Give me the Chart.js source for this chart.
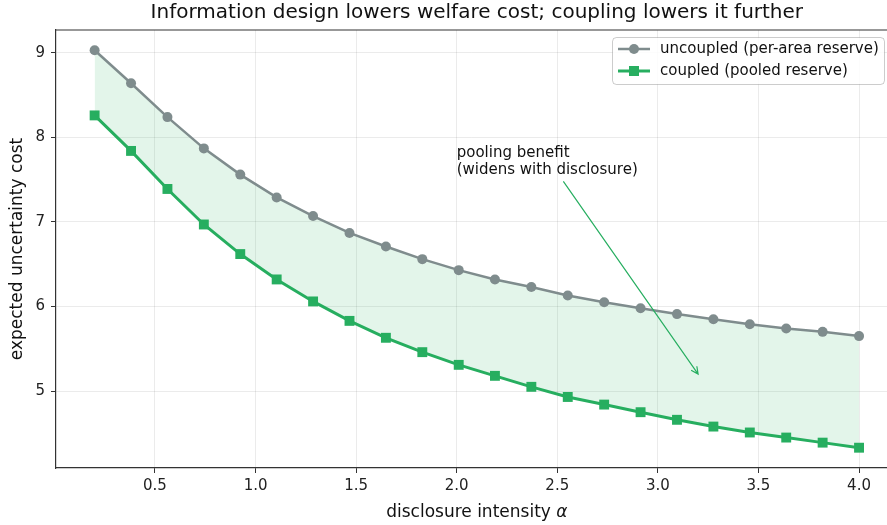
<!DOCTYPE html>
<html>
<head>
<meta charset="utf-8">
<script src="https://cdn.jsdelivr.net/npm/chart.js@4.4.0/dist/chart.umd.min.js"></script>
<style>
  html, body { margin: 0; padding: 0; background: #fff; overflow: hidden; }
  canvas { display: block; }
</style>
</head>
<body>
<canvas id="chart" width="887" height="525"></canvas>
<script>
// Datos
const alphaValues = [0.2, 0.381, 0.562, 0.743, 0.924, 1.105, 1.286, 1.467, 1.648, 1.829, 2.010,
                     2.190, 2.371, 2.552, 2.733, 2.914, 3.095, 3.276, 3.457, 3.638, 3.819, 4.0];
const uncoupledCost = [9.03, 8.64, 8.24, 7.87, 7.56, 7.29, 7.07, 6.87, 6.71, 6.56, 6.43,
                       6.32, 6.23, 6.13, 6.05, 5.98, 5.91, 5.85, 5.79, 5.74, 5.70, 5.65];
const coupledCost = [8.26, 7.84, 7.39, 6.97, 6.62, 6.32, 6.06, 5.83, 5.63, 5.46, 5.31,
                     5.18, 5.05, 4.93, 4.84, 4.75, 4.66, 4.58, 4.51, 4.45, 4.39, 4.33];
const xTicks = [0.5, 1.0, 1.5, 2.0, 2.5, 3.0, 3.5, 4.0];
const yTicks = [5, 6, 7, 8, 9];
const seriesLabels = ["uncoupled (per-area reserve)", "coupled (pooled reserve)"];
const chartTitle = "Information design lowers welfare cost; coupling lowers it further";
const xLabel = "disclosure intensity ";
const xLabelSymbol = "α";
const yLabel = "expected uncertainty cost";
const noteLines = ["pooling benefit", "(widens with disclosure)"];
const noteAt = [2.0, 7.9];
const arrowFrom = [2.53, 7.48];
const arrowTo = [3.2, 5.2];

const GREY = "#7f8c8d";
const GREEN = "#27ae60";
const FONT = "'DejaVu Sans', sans-serif";

const toPoints = (ys) => alphaValues.map((x, i) => ({ x: x, y: ys[i] }));

// Marco, títulos, leyenda y anotación
const extras = {
    id: "extras",
    afterDraw(chart) {
        const ctx = chart.ctx;
        const area = chart.chartArea;
        const sx = chart.scales.x;
        const sy = chart.scales.y;
        ctx.save();

        // marco superior (el derecho queda fuera de la imagen)
        ctx.strokeStyle = "#333";
        ctx.lineWidth = 1.2;
        ctx.beginPath();
        ctx.moveTo(area.left, area.top);
        ctx.lineTo(area.right, area.top);
        ctx.stroke();

        // el título se centra sobre el eje completo (x de 0.01 a 4.19)
        const cx = (sx.getPixelForValue(0.01) + sx.getPixelForValue(4.19)) / 2;
        ctx.fillStyle = "#111";
        ctx.textAlign = "center";
        ctx.textBaseline = "middle";
        ctx.font = "20px " + FONT;
        ctx.fillText(chartTitle, cx, 13);

        // título eje x con alfa en cursiva
        ctx.font = "17px " + FONT;
        const w1 = ctx.measureText(xLabel).width;
        ctx.font = "italic 17px " + FONT;
        const w2 = ctx.measureText(xLabelSymbol).width;
        const startX = cx - (w1 + w2) / 2;
        ctx.textAlign = "left";
        ctx.font = "17px " + FONT;
        ctx.fillText(xLabel, startX, 513);
        ctx.font = "italic 17px " + FONT;
        ctx.fillText(xLabelSymbol, startX + w1, 513);

        // título eje y
        ctx.save();
        ctx.translate(18, (area.top + area.bottom) / 2);
        ctx.rotate(-Math.PI / 2);
        ctx.textAlign = "center";
        ctx.font = "17px " + FONT;
        ctx.fillText(yLabel, 0, 0);
        ctx.restore();

        // anotación
        ctx.font = "15px " + FONT;
        ctx.textAlign = "left";
        ctx.textBaseline = "top";
        const nx = sx.getPixelForValue(noteAt[0]);
        const ny = sy.getPixelForValue(noteAt[1]);
        noteLines.forEach((t, i) => ctx.fillText(t, nx, ny + i * 17));

        const ax0 = sx.getPixelForValue(arrowFrom[0]);
        const ay0 = sy.getPixelForValue(arrowFrom[1]);
        const ax1 = sx.getPixelForValue(arrowTo[0]);
        const ay1 = sy.getPixelForValue(arrowTo[1]);
        const ang = Math.atan2(ay1 - ay0, ax1 - ax0);
        ctx.strokeStyle = GREEN;
        ctx.lineWidth = 1.2;
        ctx.beginPath();
        ctx.moveTo(ax0, ay0);
        ctx.lineTo(ax1, ay1);
        ctx.moveTo(ax1 - 8 * Math.cos(ang - 0.45), ay1 - 8 * Math.sin(ang - 0.45));
        ctx.lineTo(ax1, ay1);
        ctx.lineTo(ax1 - 8 * Math.cos(ang + 0.45), ay1 - 8 * Math.sin(ang + 0.45));
        ctx.stroke();

        // leyenda
        const lx = 612, ly = 37, lw = 272, lh = 47;
        ctx.fillStyle = "rgba(255,255,255,0.85)";
        ctx.strokeStyle = "rgba(0,0,0,0.2)";
        ctx.lineWidth = 1;
        ctx.beginPath();
        ctx.roundRect(lx + 0.5, ly + 0.5, lw, lh, 4);
        ctx.fill();
        ctx.stroke();
        const rows = [
            { color: GREY, width: 2.5, shape: "circle", y: ly + 12 },
            { color: GREEN, width: 3, shape: "rect", y: ly + 34 }
        ];
        rows.forEach((r, i) => {
            ctx.strokeStyle = r.color;
            ctx.fillStyle = r.color;
            ctx.lineWidth = r.width;
            ctx.beginPath();
            ctx.moveTo(lx + 6, r.y);
            ctx.lineTo(lx + 38, r.y);
            ctx.stroke();
            ctx.beginPath();
            if (r.shape === "circle") ctx.arc(lx + 22, r.y, 5, 0, Math.PI * 2);
            else ctx.rect(lx + 17, r.y - 5, 10, 10);
            ctx.fill();
            ctx.fillStyle = "#111";
            ctx.font = "15px " + FONT;
            ctx.textAlign = "left";
            ctx.textBaseline = "middle";
            ctx.fillText(seriesLabels[i], lx + 48, r.y);
        });

        ctx.restore();
    }
};

new Chart(document.getElementById("chart"), {
    type: "line",
    data: {
        datasets: [{
            label: seriesLabels[0],
            data: toPoints(uncoupledCost),
            borderColor: GREY,
            backgroundColor: "rgba(39,174,96,0.13)",
            pointBackgroundColor: GREY,
            pointBorderColor: GREY,
            pointStyle: "circle",
            pointRadius: 5,
            pointBorderWidth: 0,
            borderWidth: 2.5,
            fill: "+1",
            tension: 0
        }, {
            label: seriesLabels[1],
            data: toPoints(coupledCost),
            borderColor: GREEN,
            backgroundColor: GREEN,
            pointBackgroundColor: GREEN,
            pointBorderColor: GREEN,
            pointStyle: "rect",
            pointRadius: 7,
            pointBorderWidth: 0,
            borderWidth: 3,
            fill: false,
            tension: 0
        }]
    },
    options: {
        responsive: false,
        animation: false,
        layout: { autoPadding: false, padding: { top: 30, left: 0, right: 0, bottom: 0 } },
        plugins: {
            legend: { display: false },
            tooltip: { enabled: false },
            title: { display: false }
        },
        scales: {
            x: {
                type: "linear",
                min: 0.008,
                max: 4.139,
                afterBuildTicks: (s) => { s.ticks = xTicks.map((v) => ({ value: v })); },
                afterFit: (s) => { s.height = 57; },
                ticks: {
                    color: "#222",
                    font: { family: FONT, size: 15 },
                    padding: 4,
                    maxRotation: 0,
                    callback: (v) => v.toFixed(1)
                },
                grid: {
                    color: "rgba(0,0,0,0.08)",
                    tickColor: "#333",
                    tickLength: 5,
                    drawTicks: true
                },
                border: { display: true, color: "#333", width: 1.2 }
            },
            y: {
                type: "linear",
                min: 4.09,
                max: 9.27,
                afterBuildTicks: (s) => { s.ticks = yTicks.map((v) => ({ value: v })); },
                afterFit: (s) => { s.width = 56; },
                ticks: {
                    color: "#222",
                    font: { family: FONT, size: 15 },
                    padding: 6,
                    callback: (v) => String(v)
                },
                grid: {
                    color: "rgba(0,0,0,0.08)",
                    tickColor: "#333",
                    tickLength: 5,
                    drawTicks: true
                },
                border: { display: true, color: "#333", width: 1.2 }
            }
        }
    },
    plugins: [extras]
});
</script>
</body>
</html>
